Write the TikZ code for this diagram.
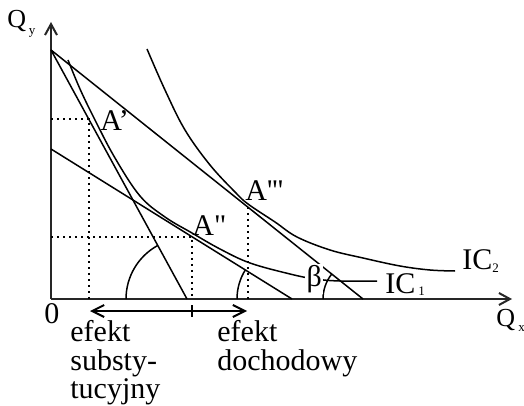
\documentclass[tikz,border=0pt]{standalone}
\usepackage{fontspec}
\setmainfont{Liberation Serif}
\usetikzlibrary{arrows.meta}
\begin{document}
\begin{tikzpicture}[x=0.5pt,y=-0.5pt,
  curve/.style={line width=0.75pt},
  axis/.style={line width=1pt, draw=black!85, -{Straight Barb[length=5.5pt,width=6pt]}},
  dots/.style={line width=1.1pt, dash pattern=on 1.1pt off 1.9pt},
  lbl/.style={font=\fontsize{15}{15}\selectfont, inner sep=0pt, anchor=base west},
  qlbl/.style={font=\fontsize{13}{13}\selectfont, inner sep=0pt, anchor=base west},
  sub/.style={font=\fontsize{6.5}{6.5}\selectfont, inner sep=0pt, anchor=base west},
]
\useasboundingbox (0,0) rectangle (524,406);
% key points
\coordinate (O) at (51,299);
\coordinate (Ytip) at (51,22);
\coordinate (Xtip) at (512,299);
\coordinate (B1) at (51,50);
\coordinate (B1x) at (187,299);
\coordinate (B2x) at (363,299);
\coordinate (B3) at (51,149);
\coordinate (B3x) at (292,299);
\coordinate (Ap) at (89,119);
\coordinate (App) at (192,237);
\coordinate (Appp) at (248,207);
\coordinate (ApY) at (51,119);
\coordinate (ApX) at (89,299);
\coordinate (AppY) at (51,237);
\coordinate (AppX) at (192,299);
\coordinate (ApppX) at (248,299);
\coordinate (EL) at (90,311);
\coordinate (ER) at (247,311);
\coordinate (T1) at (192,305);
\coordinate (T2) at (192,317);
% axes
\draw[axis] (O) -- (Ytip);
\draw[axis] (O) -- (Xtip);
% budget lines
\draw[curve] (B1) -- (B1x);
\draw[curve] (B1) -- (B2x);
\draw[curve] (B3) -- (B3x);
% indifference curves
\draw[curve] plot[smooth, tension=0.6] coordinates {(68,60) (80,89) (95,120) (115,158) (140,196) (165,217) (192,233) (220,249) (250,263) (290,274) (315,279) (340,281) (377,281)};
\draw[curve] plot[smooth, tension=0.6] coordinates {(147,49) (165,90) (185,130) (210,165) (235,192) (248,204) (275,222) (297,237) (330,250) (363,258) (400,266) (430,270) (455,271)};
% dotted projections
\draw[dots] (ApY) -- (Ap) -- (ApX);
\draw[dots] (AppY) -- (App) -- (AppX);
\draw[dots] (Appp) -- (ApppX);
% angle arcs
\draw[curve] (B1x) ++(-61,0) arc[start angle=180, end angle=241.4, radius=61];
\draw[curve] (B3x) ++(-55,0) arc[start angle=180, end angle=211.9, radius=55];
\draw[curve] (B2x) ++(-40,0) arc[start angle=180, end angle=218.6, radius=40];
% effect arrow
\draw[line width=1pt, {Straight Barb[length=6pt,width=6pt]}-{Straight Barb[length=6pt,width=6pt]}] (EL) -- (ER);
\draw[line width=1pt] (T1) -- (T2);
% labels
\node[qlbl] (qy) at (7,28) {Q};
\node[sub] (qysub) at (28.5,35) {y};
\node[qlbl] (qx) at (496,326) {Q};
\node[sub] (qxsub) at (518,331) {x};
\node[lbl] (zero) at (44,323) {0};
\node[lbl] (lap) at (100,131) {A’};
\node[lbl] (lapp) at (192,235) {A\textquotedbl};
\node[lbl] (lappp) at (245,201) {A\textquotesingle\textquotesingle\textquotesingle};
\node[lbl, fill=white, inner sep=0.6pt] (beta) at (305,286) {β};
\node[lbl] (ic2) at (462,270) {IC};
\node[sub] (ic2s) at (492,272) {2};
\node[lbl] (ic1) at (385,293) {IC};
\node[sub] (ic1s) at (418,295) {1};
\node[lbl] (e1a) at (70,341.7) {efekt};
\node[lbl] (e1b) at (70,370) {substy-};
\node[lbl] (e1c) at (70,398) {tucyjny};
\node[lbl] (e2a) at (217,341.7) {efekt};
\node[lbl] (e2b) at (217,370) {dochodowy};
\end{tikzpicture}
\end{document}
